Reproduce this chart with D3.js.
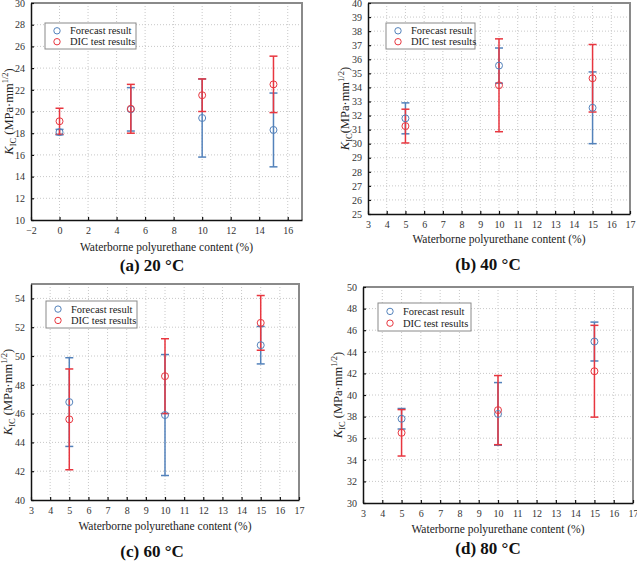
<html>
<head>
<meta charset="utf-8">
<script src="https://d3js.org/d3.v7.min.js"></script>
<style>
  body { margin: 0; background: #fff; }
  svg text { font-family: "Liberation Serif", "DejaVu Serif", serif; }
  .tick text { fill: #333; font-size: 10px; }
  .grid line { stroke: #c8c8c8; stroke-dasharray: 1,2; }
</style>
</head>
<body>
<svg id="chart" width="637" height="561" font-family="Liberation Serif, serif"></svg>
<script>
// ---- data ----
const panelTitles = ["(a) 20 \u00B0C", "(b) 40 \u00B0C", "(c) 60 \u00B0C", "(d) 80 \u00B0C"];
const seriesNames = ["Forecast result", "DIC test results"];

const contentA = [0, 5, 10, 15];
const forecastA = [18.1, 20.2, 19.4, 18.3];
const forecastErrA = [0.25, 2.0, 3.6, 3.4];
const dicA = [19.1, 20.25, 21.5, 22.5];
const dicErrA = [1.2, 2.25, 1.5, 2.6];

const contentB = [5, 10, 15];
const forecastB = [31.8, 35.55, 32.55];
const forecastErrB = [1.1, 1.25, 2.55];
const dicB = [31.25, 34.15, 34.65];
const dicErrB = [1.2, 3.3, 2.4];

const contentC = [5, 10, 15];
const forecastC = [46.8, 45.9, 50.75];
const forecastErrC = [3.08, 4.2, 1.3];
const dicC = [45.6, 48.6, 52.3];
const dicErrC = [3.5, 2.6, 1.9];

const contentD = [5, 10, 15];
const forecastD = [37.8, 38.25, 44.95];
const forecastErrD = [0.95, 2.9, 1.8];
const dicD = [36.5, 38.6, 42.2];
const dicErrD = [2.15, 3.2, 4.25];

const xTicksA = d3.range(-2, 17, 2);
const xTicksB = d3.range(3, 18, 1);
const yTicksA = d3.range(10, 31, 2);
const yTicksB = d3.range(25, 41, 1);
const yTicksC = d3.range(40, 55, 2);
const yTicksD = d3.range(30, 51, 2);

const blue = "#5382bb", red = "#e8363f";

const panels = [
  { title: panelTitles[0], x: contentA, f: forecastA, fe: forecastErrA, d: dicA, de: dicErrA,
    xd: [-2, 17], yd: [10, 30], xt: xTicksA, yt: yTicksA,
    box: { l: 31, r: 302, t: 3, b: 220 }, tc: 152, xlY: 251, tY: 271, ylX: 13, sp: " ",
    leg: { x: 45, y: 23, w: 91, h: 26 } },
  { title: panelTitles[1], x: contentB, f: forecastB, fe: forecastErrB, d: dicB, de: dicErrB,
    xd: [3, 17], yd: [25, 40], xt: xTicksB, yt: yTicksB,
    box: { l: 368, r: 630, t: 3, b: 214 }, tc: 488, xlY: 243, tY: 270, ylX: 349, sp: "",
    leg: { x: 386, y: 23, w: 89, h: 26 } },
  { title: panelTitles[2], x: contentC, f: forecastC, fe: forecastErrC, d: dicC, de: dicErrC,
    xd: [3, 17], yd: [40, 55], xt: xTicksB, yt: yTicksC,
    box: { l: 31, r: 299, t: 284, b: 500 }, tc: 152, xlY: 530, tY: 557, ylX: 12, sp: " ",
    leg: { x: 46, y: 301, w: 91, h: 27 } },
  { title: panelTitles[3], x: contentD, f: forecastD, fe: forecastErrD, d: dicD, de: dicErrD,
    xd: [3, 17], yd: [30, 50], xt: xTicksB, yt: yTicksD,
    box: { l: 363, r: 633, t: 287, b: 503 }, tc: 488, xlY: 533, tY: 554, ylX: 342, sp: " ",
    leg: { x: 378, y: 303, w: 93, h: 28 } }
];

const svg = d3.select("#chart");

panels.forEach(p => {
  const b = p.box;
  const x = d3.scaleLinear().domain(p.xd).range([b.l, b.r]);
  const y = d3.scaleLinear().domain(p.yd).range([b.b, b.t]);
  const g = svg.append("g");

  // grid
  g.append("g").attr("class", "grid")
    .selectAll("line").data(p.xt.filter(v => v > p.xd[0] && v < p.xd[1])).join("line")
    .attr("x1", d => x(d)).attr("x2", d => x(d)).attr("y1", b.t).attr("y2", b.b);
  g.append("g").attr("class", "grid")
    .selectAll("line").data(p.yt.filter(v => v > p.yd[0] && v < p.yd[1])).join("line")
    .attr("y1", d => y(d)).attr("y2", d => y(d)).attr("x1", b.l).attr("x2", b.r);

  // top/right frame (grey)
  g.append("path")
    .attr("d", `M${b.l},${b.t}H${b.r}V${b.b}`)
    .attr("fill", "none").attr("stroke", "#8a8a8a").attr("stroke-width", 2);

  // axes with inward ticks
  const xa = g.append("g").attr("transform", `translate(0,${b.b})`)
    .call(d3.axisBottom(x).tickValues(p.xt).tickSizeInner(-3).tickSizeOuter(0).tickPadding(7));
  const ya = g.append("g").attr("transform", `translate(${b.l},0)`)
    .call(d3.axisLeft(y).tickValues(p.yt).tickSizeInner(-3).tickSizeOuter(0).tickPadding(6));
  [xa, ya].forEach(a => {
    a.attr("font-family", null).attr("font-size", null);
    a.select(".domain").attr("stroke", "#111").attr("stroke-width", 1.5);
    a.selectAll(".tick line").attr("stroke", "#111").attr("stroke-width", 1.2);
  });

  // error bars + markers, forecast first then DIC
  const series = [
    { v: p.f, e: p.fe, c: blue },
    { v: p.d, e: p.de, c: red }
  ];
  series.forEach(s => {
    const rows = p.x.map((xv, i) => ({ x: xv, v: s.v[i], e: s.e[i] }));
    const eg = g.append("g").attr("stroke", s.c).attr("stroke-width", 1.5).attr("fill", "none");
    eg.selectAll("line.bar").data(rows).join("line").attr("class", "bar")
      .attr("x1", d => x(d.x)).attr("x2", d => x(d.x))
      .attr("y1", d => y(d.v - d.e)).attr("y2", d => y(d.v + d.e));
    eg.selectAll("line.capl").data(rows).join("line").attr("class", "capl")
      .attr("x1", d => x(d.x) - 4).attr("x2", d => x(d.x) + 4)
      .attr("y1", d => y(d.v - d.e)).attr("y2", d => y(d.v - d.e));
    eg.selectAll("line.caph").data(rows).join("line").attr("class", "caph")
      .attr("x1", d => x(d.x) - 4).attr("x2", d => x(d.x) + 4)
      .attr("y1", d => y(d.v + d.e)).attr("y2", d => y(d.v + d.e));
  });
  series.forEach(s => {
    const rows = p.x.map((xv, i) => ({ x: xv, v: s.v[i] }));
    g.append("g").selectAll("circle").data(rows).join("circle")
      .attr("cx", d => x(d.x)).attr("cy", d => y(d.v)).attr("r", 3.5)
      .attr("fill", "none").attr("stroke", s.c).attr("stroke-width", 1);
  });

  // legend
  const L = p.leg;
  const lg = g.append("g");
  lg.append("rect").attr("x", L.x).attr("y", L.y).attr("width", L.w).attr("height", L.h)
    .attr("fill", "#fff").attr("stroke", "#8a8a8a").attr("stroke-width", 1);
  [blue, red].forEach((c, i) => {
    const cy = L.y + L.h * (i === 0 ? 0.3 : 0.72);
    lg.append("circle").attr("cx", L.x + 12).attr("cy", cy).attr("r", 3.2)
      .attr("fill", "none").attr("stroke", c).attr("stroke-width", 1);
    lg.append("text").attr("x", L.x + 25).attr("y", cy + 3.5).attr("font-size", 10.5)
      .attr("fill", "#222").text(seriesNames[i]);
  });

  // axis titles
  g.append("text").attr("x", (b.l + b.r) / 2).attr("y", p.xlY).attr("text-anchor", "middle")
    .attr("font-size", 11.5).attr("fill", "#222").text("Waterborne polyurethane content (%)");
  const yl = g.append("text")
    .attr("transform", `translate(${p.ylX},${(b.t + b.b) / 2}) rotate(-90)`)
    .attr("text-anchor", "middle").attr("font-size", 12.5).attr("fill", "#222");
  yl.append("tspan").attr("font-style", "italic").text("K");
  yl.append("tspan").attr("font-size", 8.5).attr("dy", 3).text("IC");
  yl.append("tspan").attr("dy", -3).text(p.sp + "(MPa\u00B7mm");
  yl.append("tspan").attr("font-size", 8.5).attr("dy", -5).text("1/2");
  yl.append("tspan").attr("dy", 5).text(")");

  // panel title
  g.append("text").attr("x", p.tc).attr("y", p.tY).attr("text-anchor", "middle")
    .attr("font-size", 17).attr("font-weight", "bold").attr("fill", "#111").text(p.title);
});
</script>
</body>
</html>
